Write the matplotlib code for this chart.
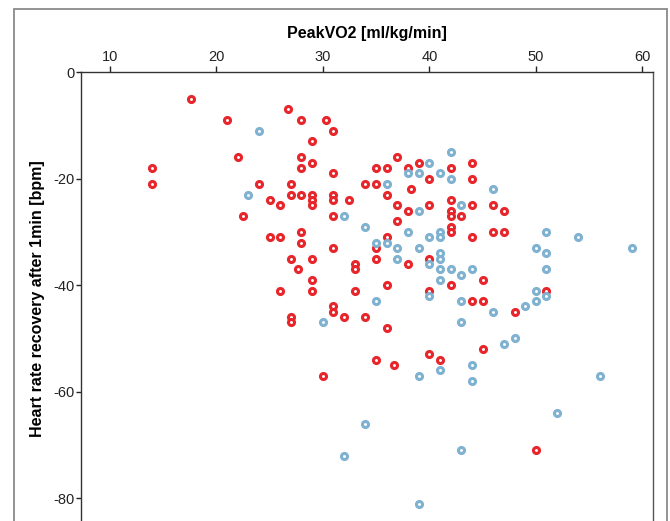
import matplotlib
matplotlib.use('Agg')
from matplotlib import pyplot as plt
from matplotlib.patches import Rectangle

# PeakVO2 vs heart rate recovery, two groups
red_x = [17.6, 21, 26.7, 28, 30.3, 31, 29, 22, 28, 29, 14, 28, 31, 14, 24, 27, 27, 28, 29, 29,
         29, 31, 31, 32.5, 25, 26, 22.5, 31, 25, 26, 28, 28, 31, 27, 29, 27.7, 33, 33, 29, 26,
         29, 33, 37, 39, 44, 35, 36, 38, 42, 40, 44, 34, 35, 38.3, 36, 42, 44, 46, 37, 40,
         38, 42, 42, 43, 47, 37, 42, 42, 46, 47, 36, 44, 35, 35, 40, 38, 45, 36, 42, 40,
         51, 44, 45, 27, 27, 31, 31, 32, 34, 36, 35, 36.7, 40, 41, 30, 48, 45, 50]
red_y = [-5, -9, -7, -9, -9, -11, -13, -16, -16, -17, -18, -18, -19, -21, -21, -21, -23, -23, -23, -24,
         -25, -23, -24, -24, -24, -25, -27, -27, -31, -31, -30, -32, -33, -35, -35, -37, -36, -37, -39, -41,
         -41, -41, -16, -17, -17, -18, -18, -18, -18, -20, -20, -21, -21, -22, -23, -24, -25, -25, -25, -25,
         -26, -26, -27, -27, -26, -28, -29, -30, -30, -30, -31, -31, -33, -35, -35, -36, -39, -40, -40, -41,
         -41, -43, -43, -46, -47, -44, -45, -46, -46, -48, -54, -55, -53, -54, -57, -45, -52, -71]

blue_x = [24, 23, 32, 40, 42, 38, 39, 41, 42, 36, 46, 43, 39, 34, 38, 41, 51, 40, 41, 54,
          35, 36, 37, 39, 50, 59, 51, 37, 41, 41, 40, 41, 42, 43, 44, 51, 41, 50, 40, 35,
          43, 30, 43, 39, 41, 44, 44, 34, 32, 43, 39, 51, 50, 49, 46, 47, 48, 56, 52]
blue_y = [-11, -23, -27, -17, -15, -19, -19, -19, -20, -21, -22, -25, -26, -29, -30, -30, -30, -31, -31, -31,
          -32, -32, -33, -33, -33, -33, -34, -35, -34, -35, -36, -37, -37, -38, -37, -37, -39, -41, -42, -43,
          -43, -47, -47, -57, -56, -55, -58, -66, -72, -71, -81, -42, -43, -44, -45, -51, -50, -57, -64]

font = 'Liberation Sans'
red = '#e6262b'
blue = '#7fb1d0'

plt.rcParams['axes.unicode_minus'] = False

fig = plt.figure(figsize=(6.7, 5.21), dpi=100)
# axes runs past the bottom edge of the picture, as in the reference
ax = fig.add_axes([81 / 670, 1 - 525 / 521, 572 / 670, 453 / 521])

ax.scatter(red_x, red_y, s=19, facecolors='white', edgecolors=red, linewidths=2.2, zorder=3)
ax.scatter(blue_x, blue_y, s=19, facecolors='white', edgecolors=blue, linewidths=2.2, zorder=3)

ax.set_xlim(7.3, 61.0)
ax.set_ylim(-85, 0)
ax.set_xticks([10, 20, 30, 40, 50, 60])
ax.set_yticks([0, -20, -40, -60, -80])

ax.xaxis.tick_top()
ax.xaxis.set_label_position('top')
ax.tick_params(axis='x', direction='out', length=4, width=1, pad=1.5, labelsize=10.5, colors='#222222')
ax.tick_params(axis='y', direction='out', length=3.5, width=1, pad=1, labelsize=10.5, colors='#222222')
for lab in ax.get_xticklabels() + ax.get_yticklabels():
    lab.set_fontname(font)

ax.set_xlabel('PeakVO2 [ml/kg/min]', fontname=font, fontweight='bold', fontsize=11.5, labelpad=9)
ax.set_ylabel('Heart rate recovery after 1min [bpm]', fontname=font, fontweight='bold', fontsize=11.5, labelpad=6)

for spine in ax.spines.values():
    spine.set_linewidth(1)
    spine.set_color('#333333')
ax.spines['right'].set_color('#555555')

# outer grey frame of the original graphic
frame = Rectangle((14 / 670, -0.1), 653 / 670, 1.1 - 9 / 521, transform=fig.transFigure,
                  fill=False, edgecolor='#8a8a8a', linewidth=1.3)
fig.patches.append(frame)

plt.savefig('out.png', dpi=100)
